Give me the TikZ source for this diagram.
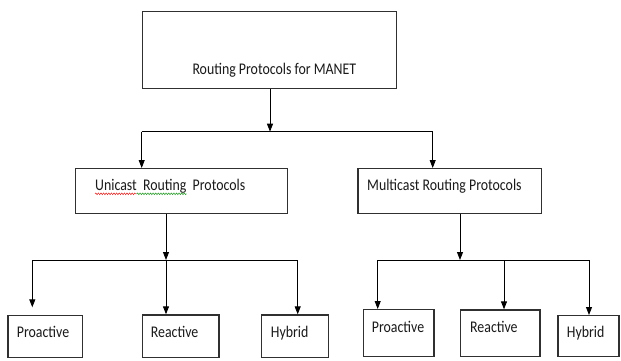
\documentclass[tikz,border=0pt]{standalone}
\usepackage{fontspec}
\setmainfont{Carlito}[FakeStretch=0.85]
\usetikzlibrary{arrows.meta,decorations.pathmorphing}
\definecolor{boxline}{HTML}{303030}
\definecolor{txt}{HTML}{1A1A1A}
\definecolor{spellred}{HTML}{E03030}
\definecolor{spellgreen}{HTML}{30A030}
\begin{document}
\begin{tikzpicture}[x=1pt,y=-1pt,
  box/.style={draw=boxline,line width=1.2pt,rectangle,inner sep=0pt,anchor=north west},
  lbl/.style={anchor=base west,inner sep=0pt,text=txt,font=\fontsize{16.3}{19}\selectfont},
  arr/.style={draw=black,line width=0.9pt,-{Triangle[length=8pt,width=6pt]}},
  conn/.style={draw=black,line width=0.9pt},
  wave/.style={line width=0.6pt,decorate,decoration={snake,amplitude=0.8pt,segment length=2.6pt}}
]
\useasboundingbox[fill=white] (0,0) rectangle (621,360);

% boxes
\node[box,minimum width=254.3pt,minimum height=77.3pt] (top) at (141.7,10.7) {};
\node[box,minimum width=211.7pt,minimum height=44.7pt] (uni) at (75,168) {};
\node[box,minimum width=183.4pt,minimum height=44.7pt] (multi) at (357.3,168) {};
\node[box,minimum width=74.4pt,minimum height=41.7pt] (up) at (7.3,315) {};
\node[box,minimum width=76.6pt,minimum height=42.7pt] (ur) at (141.7,314.3) {};
\node[box,minimum width=66.7pt,minimum height=42.7pt] (uh) at (261,314.3) {};
\node[box,minimum width=70.6pt,minimum height=47pt] (mp) at (362.7,309) {};
\node[box,minimum width=79.3pt,minimum height=46.7pt] (mr) at (460,309.3) {};
\node[box,minimum width=61pt,minimum height=41pt] (mh) at (557.3,315) {};

% labels
\node[lbl] (topT) at (192.3,74.3) {Routing Protocols for MANET};
\node[lbl] (uniT) at (95,190.7) {Unicast\ \ Routing\ \ Protocols};
\node[lbl] (multiT) at (367,190.7) {Multicast Routing Protocols};
\node[lbl] (upT) at (16.7,337.7) {Proactive};
\node[lbl] (urT) at (150.7,337.7) {Reactive};
\node[lbl] (uhT) at (270.7,337.7) {Hybrid};
\node[lbl] (mpT) at (371.7,332) {Proactive};
\node[lbl] (mrT) at (470,332) {Reactive};
\node[lbl] (mhT) at (566.7,337.7) {Hybrid};

% spell-check marks
\draw[wave,spellred] (95,193.8) -- (136.7,193.8);
\draw[wave,spellgreen] (136.7,193.8) -- (186.7,193.8);

% junction coordinates
\coordinate (j1) at (270,131.7);
\coordinate (h1L) at (141.7,131.7);
\coordinate (h1R) at (432.7,131.7);
\coordinate (j2) at (166,260);
\coordinate (h2L) at (32.3,260);
\coordinate (h2R) at (297.7,260);
\coordinate (e2L) at (32.3,307.3);
\coordinate (j3) at (460,260);
\coordinate (h3L) at (377.7,260);
\coordinate (h3M) at (504,260);
\coordinate (h3R) at (589,260);

% level 1
\draw[arr] (top.south -| j1) -- (j1);
\draw[conn] (h1L) -- (h1R);
\draw[arr] (h1L) -- (uni.north -| h1L);
\draw[arr] (h1R) -- (multi.north -| h1R);

% unicast
\draw[arr] (uni.south -| j2) -- (j2);
\draw[conn] (h2L) -- (h2R);
\draw[arr] (h2L) -- (e2L);
\draw[arr] (j2) -- (ur.north -| j2);
\draw[arr] (h2R) -- (uh.north -| h2R);

% multicast
\draw[arr] (multi.south -| j3) -- (j3);
\draw[conn] (h3L) -- (h3R);
\draw[arr] (h3L) -- (mp.north -| h3L);
\draw[arr] (h3M) -- (mr.north -| h3M);
\draw[arr] (h3R) -- (mh.north -| h3R);
\end{tikzpicture}
\end{document}
